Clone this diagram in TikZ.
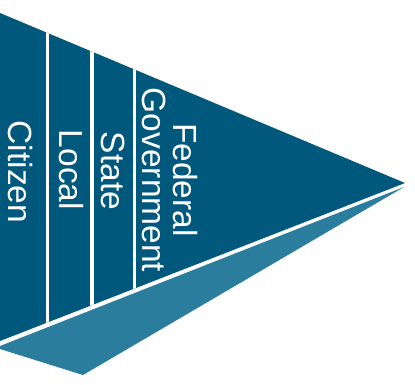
\documentclass[tikz,border=0pt]{standalone}
\usepackage{fontspec}
\setmainfont{Liberation Sans}
\definecolor{darkblue}{RGB}{0,89,125}
\definecolor{lightblue}{RGB}{42,125,156}
\begin{document}
\begin{tikzpicture}[x=1pt,y=-1pt,
  label/.style={text=white,rotate=-90,inner sep=0pt,font=\fontsize{33.5}{31}\selectfont,align=center},
  sep/.style={draw=white,line width=3.6pt}]
\useasboundingbox (0,0) rectangle (415,384);
% lower light band
\fill[lightblue] (0,346) -- (404,187) -- (83,375) -- (0,349) -- cycle;
% main triangle
\coordinate (tl) at (0,13);
\coordinate (apex) at (405,183);
\coordinate (bl) at (0,341);
\fill[darkblue] (tl) -- (apex) -- (bl) -- cycle;
\begin{scope}
  \clip (tl) -- (apex) -- (bl) -- cycle;
  \draw[sep] (47.5,0) -- (47.5,384);
  \draw[sep] (92,0) -- (92,384);
  \draw[sep] (134.5,0) -- (134.5,384);
\end{scope}
\node[label] (citizen) at (20,172) {Citizen};
\node[label] (local) at (71,170) {Local};
\node[label] (state) at (113,171) {State};
\node[label] (federal) at (170,180) {Federal\\Government};
\end{tikzpicture}
\end{document}
